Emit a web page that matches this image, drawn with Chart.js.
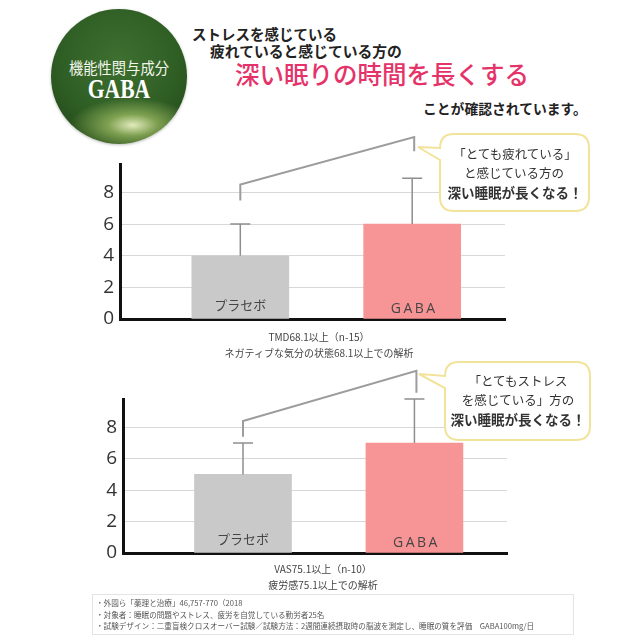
<!DOCTYPE html>
<html>
<head>
<meta charset="utf-8">
<script src="https://cdn.jsdelivr.net/npm/chart.js@4.4.1/dist/chart.umd.min.js"></script>
<style>
  html, body { margin: 0; padding: 0; background: #fff; }
  #page { position: relative; width: 640px; height: 640px; overflow: hidden; font-family: "Noto Sans CJK JP", sans-serif; }
  .abs { position: absolute; white-space: nowrap; line-height: 1; }
  canvas { position: absolute; left: 0; }
  #badge {
    left: 51px; top: 9px; width: 136px; height: 135px; border-radius: 50%;
    background:
      radial-gradient(ellipse 46% 20% at 60% 86%, rgba(236,242,196,0.95) 0%, rgba(160,190,100,0.7) 40%, rgba(70,110,45,0) 100%),
      radial-gradient(circle at 50% 38%, #3e7031 0%, #2f5e24 55%, #1e3f15 100%);
    box-shadow: 0 1px 3px rgba(0,0,0,0.25);
  }
  .sub { font-size: 10px; color: #444; text-align: center; width: 300px; }
  #notes { left: 92px; top: 594px; width: 480px; height: 39px; border: 1px solid #e4e4e4; }
  #notes div { font-size: 7.6px; color: #555; line-height: 11.5px; padding-left: 3px; }
</style>
</head>
<body>
<div id="page">
  <div id="badge" class="abs">
    <div class="abs" style="left:0;width:136px;top:51px;text-align:center;font-size:15.5px;color:#f2f5ea;font-family:'Noto Sans CJK JP';transform:scaleX(0.92);">機能性関与成分</div>
    <div class="abs" style="left:0;width:136px;top:67px;text-align:center;font-size:27px;font-weight:bold;color:#fff;font-family:'Liberation Serif',serif;transform:scaleX(0.8);">GABA</div>
  </div>

  <div class="abs" style="left:192px;top:27px;font-size:14.5px;font-weight:bold;color:#222;">ストレスを感じている</div>
  <div class="abs" style="left:210px;top:44px;font-size:14.8px;font-weight:bold;color:#222;">疲れていると感じている方の</div>
  <div class="abs" style="left:235px;top:62px;font-size:24.5px;font-weight:500;color:#e5336a;">深い眠りの時間を長くする</div>
  <div class="abs" style="left:423px;top:102px;font-size:13.8px;font-weight:bold;color:#222;">ことが確認されています。</div>

  <canvas id="tmdChart" width="640" height="240" style="top:110px;width:640px;height:240px;"></canvas>
  <canvas id="vasChart" width="640" height="230" style="top:350px;width:640px;height:230px;"></canvas>

  <div class="abs sub" style="left:169px;top:332px;">TMD68.1以上（n-15）</div>
  <div class="abs sub" style="left:169px;top:348px;">ネガティブな気分の状態68.1以上での解析</div>
  <div class="abs sub" style="left:173px;top:564px;">VAS75.1以上（n-10）</div>
  <div class="abs sub" style="left:173px;top:580px;">疲労感75.1以上での解析</div>

  <svg class="abs" width="640" height="640" style="left:0;top:0;pointer-events:none;" font-family="Noto Sans CJK JP" fill="#333">
    <path d="M454,134 H575 Q589,134 589,148 V197 Q589,211 575,211 H454 Q440,211 440,197 V160 L418,147 L440,148 Q440,134 454,134 Z"
          fill="#fff" stroke="#f2e39a" stroke-width="2"/>
    <text x="515" y="159" font-size="12.5" text-anchor="middle">「とても疲れている」</text>
    <text x="514" y="178" font-size="12.5" text-anchor="middle">と感じている方の</text>
    <text x="515" y="198" font-size="13.5" font-weight="bold" text-anchor="middle">深い睡眠が長くなる！</text>

    <path d="M459,362 H576 Q590,362 590,376 V426 Q590,440 576,440 H459 Q445,440 445,426 V388 L419,374 L445,376 Q445,362 459,362 Z"
          fill="#fff" stroke="#f2e39a" stroke-width="2"/>
    <text x="518" y="386" font-size="12.5" text-anchor="middle">「とてもストレス</text>
    <text x="518" y="405" font-size="12.5" text-anchor="middle">を感じている」方の</text>
    <text x="518" y="425" font-size="13.5" font-weight="bold" text-anchor="middle">深い睡眠が長くなる！</text>
  </svg>

  <div id="notes" class="abs">
    <div style="margin-top:2px;">・外園ら「薬理と治療」46,757-770（2018</div>
    <div>・対象者：睡眠の問題やストレス、疲労を自覚している勤労者25名</div>
    <div>・試験デザイン：二重盲検クロスオーバー試験／試験方法：2週間連続摂取時の脳波を測定し、睡眠の質を評価　GABA100mg/日</div>
  </div>
</div>

<script>
// ── Data ──────────────────────────────────────────────────────────────────────
const categories = ['プラセボ', 'GABA'];
const tickLabels = [0, 2, 4, 6, 8];

// TMD68.1以上 (n-15)
const tmdMeans   = [4.0, 6.0];
const tmdErrTop  = [6.0, 8.9];
const tmdBracket = [7.5, 8.5, 11.5, 10.6];   // left low, left high, right high, right low

// VAS75.1以上 (n-10)
const vasMeans   = [5.0, 7.0];
const vasErrTop  = [7.0, 9.8];
const vasBracket = [7.4, 8.4, 11.6, 10.2];

const barColors = ['#c9c9c9', '#f79495'];

// ── Error bars, significance bracket and in-bar labels ────────────────────────
const annotatePlugin = {
    id: 'annotate',
    afterDatasetsDraw: function (chart, args, opts) {
        const { ctx } = chart;
        const x = chart.scales.x, y = chart.scales.y;
        ctx.save();

        // error bars (upper only)
        ctx.strokeStyle = '#8e8e8e';
        ctx.lineWidth = 1.5;
        opts.means.forEach((m, i) => {
            const px = x.getPixelForValue(i + 1);
            const y0 = y.getPixelForValue(m), y1 = y.getPixelForValue(opts.errTop[i]);
            ctx.beginPath();
            ctx.moveTo(px, y0); ctx.lineTo(px, y1);
            ctx.moveTo(px - 10, y1); ctx.lineTo(px + 10, y1);
            ctx.stroke();
        });

        // bracket between the two bars
        const b = opts.bracket;
        const lx = x.getPixelForValue(1), rx = x.getPixelForValue(2) + 2;
        ctx.strokeStyle = '#9c9c9c';
        ctx.lineWidth = 2;
        ctx.beginPath();
        ctx.moveTo(lx, y.getPixelForValue(b[0]));
        ctx.lineTo(lx, y.getPixelForValue(b[1]));
        ctx.lineTo(rx, y.getPixelForValue(b[2]));
        ctx.lineTo(rx, y.getPixelForValue(b[3]));
        ctx.stroke();

        // category names inside the bars
        const zero = y.getPixelForValue(0);
        ctx.fillStyle = '#454545';
        ctx.textAlign = 'center';
        ctx.textBaseline = 'middle';
        ctx.font = '13px "Noto Sans CJK JP"';
        ctx.fillText(categories[0], x.getPixelForValue(1), zero - 14);
        ctx.font = '14px "Open Sans"';
        ctx.letterSpacing = '2.5px';
        ctx.fillText(categories[1], x.getPixelForValue(2) + 2, zero - 10);
        ctx.restore();
    }
};

function renderSleepChart(canvasId, means, errTop, bracket, pad) {
    const canvas = document.getElementById(canvasId);
    return new Chart(canvas, {
        type: 'bar',
        data: {
            datasets: [{
                data: means.map((v, i) => ({ x: i + 1, y: v })),
                backgroundColor: barColors,
                barThickness: 97,
                borderWidth: 0
            }]
        },
        options: {
            responsive: false,
            animation: false,
            layout: { padding: { top: pad.top, bottom: pad.bottom, left: 0, right: pad.right } },
            plugins: {
                legend: { display: false },
                tooltip: { enabled: false },
                annotate: { means: means, errTop: errTop, bracket: bracket }
            },
            scales: {
                x: {
                    type: 'linear', min: 0.3, max: 2.54, offset: false,
                    ticks: { display: false },
                    grid: { display: false, drawTicks: false },
                    border: { display: true, color: '#111', width: 3 },
                    afterFit: s => { s.height = 0; }
                },
                y: {
                    min: 0, max: 9.8,
                    afterBuildTicks: s => { s.ticks = tickLabels.map(v => ({ value: v })); },
                    ticks: { font: { family: '"Open Sans"', size: 19 }, color: '#333', padding: 6 },
                    grid: { color: '#d8d8d8', lineWidth: 1, drawTicks: false },
                    border: { color: '#111', width: 3 },
                    afterFit: s => { s.width = pad.left; }
                }
            }
        },
        plugins: [annotatePlugin]
    });
}

renderSleepChart('tmdChart', tmdMeans, tmdErrTop, tmdBracket, { top: 54, bottom: 31, left: 120, right: 135 });
renderSleepChart('vasChart', vasMeans, vasErrTop, vasBracket, { top: 49, bottom: 27, left: 123, right: 133 });
</script>
</body>
</html>
